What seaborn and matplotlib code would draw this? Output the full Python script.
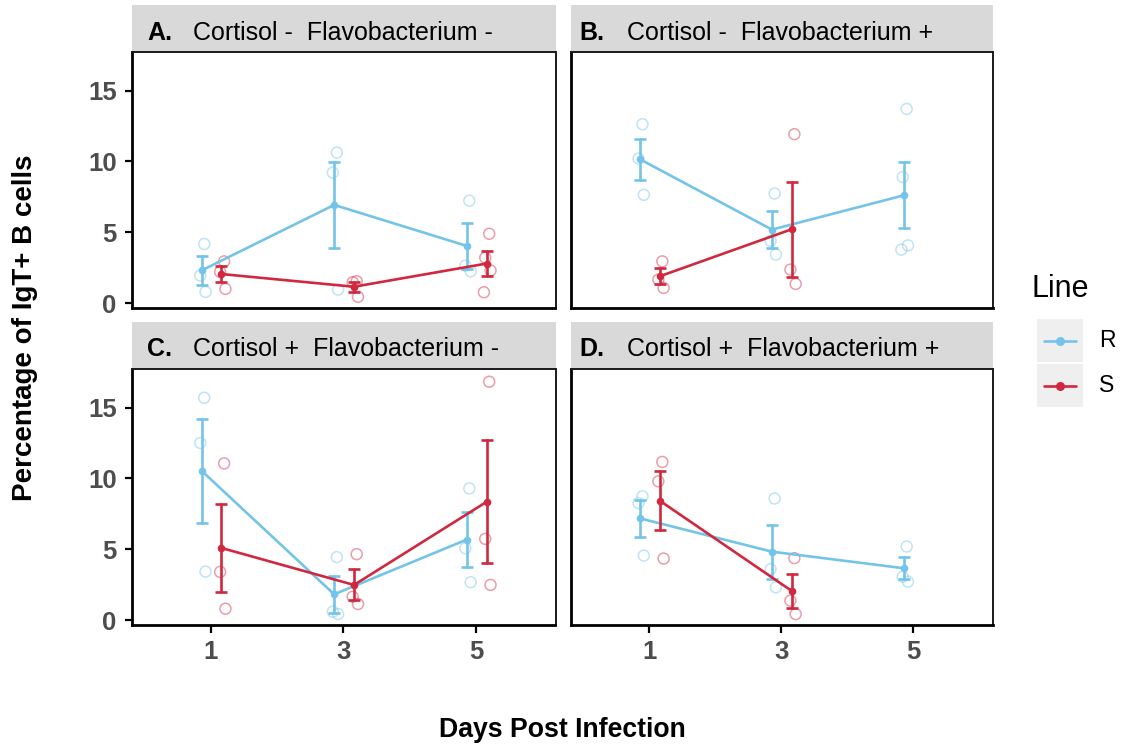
import numpy as np
import pandas as pd
import matplotlib
matplotlib.use("Agg")
import matplotlib.pyplot as plt
import seaborn as sns
from matplotlib.patches import Rectangle
from matplotlib.lines import Line2D

# ---------------- data ----------------
days = [1, 3, 5]
line_names = ["R", "S"]
panel_tags = ["A.", "B.", "C.", "D."]
panel_titles = ["Cortisol -  Flavobacterium -", "Cortisol -  Flavobacterium +",
                "Cortisol +  Flavobacterium -", "Cortisol +  Flavobacterium +"]

# individual observations (% IgT+ B cells) for day 1, 3, 5
A_R = [[4.17, 1.94, 0.79], [10.62, 9.21, 0.95], [7.22, 2.64, 2.24]]
A_S = [[2.94, 2.20, 1.00], [1.54, 1.47, 0.44], [4.89, 3.20, 2.30, 0.76]]
B_R = [[12.62, 10.20, 7.64], [7.73, 4.40, 3.42], [13.70, 8.89, 4.07, 3.77]]
B_S = [[2.94, 1.65, 1.07], [11.92, 2.36, 1.35], []]
C_R = [[15.69, 12.50, 3.42], [4.44, 0.59, 0.42], [9.29, 5.07, 2.67]]
C_S = [[11.06, 3.40, 0.80], [4.65, 1.65, 1.13], [16.82, 5.73, 2.48]]
D_R = [[8.73, 8.26, 4.55], [8.58, 3.59, 2.31], [5.19, 3.06, 2.71]]
D_S = [[11.16, 9.79, 4.34], [4.37, 1.37, 0.42], []]

panel_data = {"A.": {"R": A_R, "S": A_S}, "B.": {"R": B_R, "S": B_S},
              "C.": {"R": C_R, "S": C_S}, "D.": {"R": D_R, "S": D_S}}

palette = {"R": "#73C4E8", "S": "#D0283F"}
dodge = {"R": -0.14, "S": 0.16}
jitter = [0.04, -0.02, 0.06, -0.04]

rows = []
for tag in panel_tags:
    for ln in line_names:
        for d, vals in zip(days, panel_data[tag][ln]):
            for i, v in enumerate(vals):
                rows.append(dict(panel=tag, Line=ln, day=d, value=v,
                                 xm=d + dodge[ln], xj=d + dodge[ln] + jitter[i % 4]))
df = pd.DataFrame(rows)

# ---------------- figure ----------------
sns.set_style("white")
plt.rcParams["font.family"] = ["Liberation Sans", "DejaVu Sans"]

W, H = 1125, 746
fig = plt.figure(figsize=(W / 100, H / 100), dpi=100)

col_left = [132, 570.5]
col_w = [423.5, 422]
row_top = [52, 369]
ax_h = 256

axes = []
for r in range(2):
    for c in range(2):
        ax = fig.add_axes([col_left[c] / W, 1 - (row_top[r] + ax_h) / H, col_w[c] / W, ax_h / H])
        axes.append(ax)

tick_color = "#4D4D4D"
strip_h = 47 / ax_h
for k, ax in enumerate(axes):
    tag = panel_tags[k]
    sub = df[df.panel == tag]

    sns.scatterplot(data=sub, x="xj", y="value", hue="Line", palette=palette,
                    s=62, linewidth=1.1, legend=False, ax=ax, zorder=1)
    coll = ax.collections[-1]
    fc = coll.get_facecolors().copy()
    fc[:, 3] = 0.45
    coll.set_facecolor("none")
    coll.set_edgecolor(fc)

    sns.lineplot(data=sub, x="xm", y="value", hue="Line", palette=palette,
                 estimator="mean", errorbar="se", err_style="bars",
                 marker="o", markersize=5.5, markeredgewidth=0, linewidth=1.9,
                 err_kws=dict(capsize=4.5, elinewidth=1.9, capthick=1.9),
                 legend=False, ax=ax)

    ax.set_xlim(-0.19, 6.2)
    ax.set_ylim(-0.35, 17.72)
    ax.set_yticks([0, 5, 10, 15])
    ax.set_xlabel("")
    ax.set_ylabel("")

    c = k % 2
    r = k // 2
    if c == 0:
        ax.set_yticklabels(["0", "5", "10", "15"])
        ax.tick_params(axis="y", length=5, width=1.6, color="black", left=True,
                       labelsize=18.5, labelcolor=tick_color, pad=6)
    else:
        ax.tick_params(axis="y", left=False, labelleft=False)
    ax.set_xticks(days)
    if r == 1:
        ax.set_xticklabels([str(d) for d in days])
        ax.tick_params(axis="x", length=6, width=1.6, color="black", bottom=True,
                       labelsize=18.5, labelcolor=tick_color, pad=5)
    else:
        ax.tick_params(axis="x", bottom=False, labelbottom=False)
    for lab in ax.get_xticklabels() + ax.get_yticklabels():
        lab.set_fontweight("bold")

    for s in ["left", "bottom"]:
        ax.spines[s].set_color("black")
        ax.spines[s].set_linewidth(2.0)
    for s in ["top", "right"]:
        ax.spines[s].set_color("#1A1A1A")
        ax.spines[s].set_linewidth(1.4)

    # facet strip
    ax.add_patch(Rectangle((0, 1), 1, strip_h, transform=ax.transAxes,
                           facecolor="#D9D9D9", edgecolor="none", clip_on=False))
    tag_x = 0.036 if c == 0 else 0.021
    title_x = 0.144 if c == 0 else 0.134
    ty = 1 + strip_h / 2 - 4 / ax_h
    ax.text(tag_x, ty, tag, transform=ax.transAxes, ha="left", va="center",
            fontsize=18, fontweight="bold", color="black")
    ax.text(title_x, ty, panel_titles[k], transform=ax.transAxes,
            ha="left", va="center", fontsize=18, color="black")

fig.text(25 / W, 1 - 328 / H, "Percentage of IgT+ B cells", rotation=90,
         ha="center", va="center", fontsize=20, fontweight="bold", color="black")
fig.text(562 / W, 1 - 730 / H, "Days Post Infection", ha="center", va="center",
         fontsize=19.2, fontweight="bold", color="black")

# ---------------- legend ----------------
lax = fig.add_axes([1037 / W, 1 - 408 / H, 46 / W, 90 / H])
lax.set_xlim(0, 1)
lax.set_ylim(0, 2)
lax.axis("off")
for i, ln in enumerate(line_names):
    y0 = 1 - i
    lax.add_patch(Rectangle((0, y0 + 0.02), 1, 0.96, facecolor="#EFEFEF", edgecolor="none"))
    lax.add_line(Line2D([0.15, 0.85], [y0 + 0.5, y0 + 0.5], color=palette[ln], lw=1.9, zorder=3))
    lax.plot([0.5], [y0 + 0.5], marker="o", color=palette[ln], markersize=6.5,
             markeredgewidth=0, zorder=4)
    fig.text(1099 / W, 1 - (340 + 46 * i) / H, ln, ha="left", va="center",
             fontsize=16.5, color="black")
fig.text(1031 / W, 1 - 289 / H, "Line", ha="left", va="center", fontsize=22, color="black")

fig.savefig("out.png", dpi=100)
